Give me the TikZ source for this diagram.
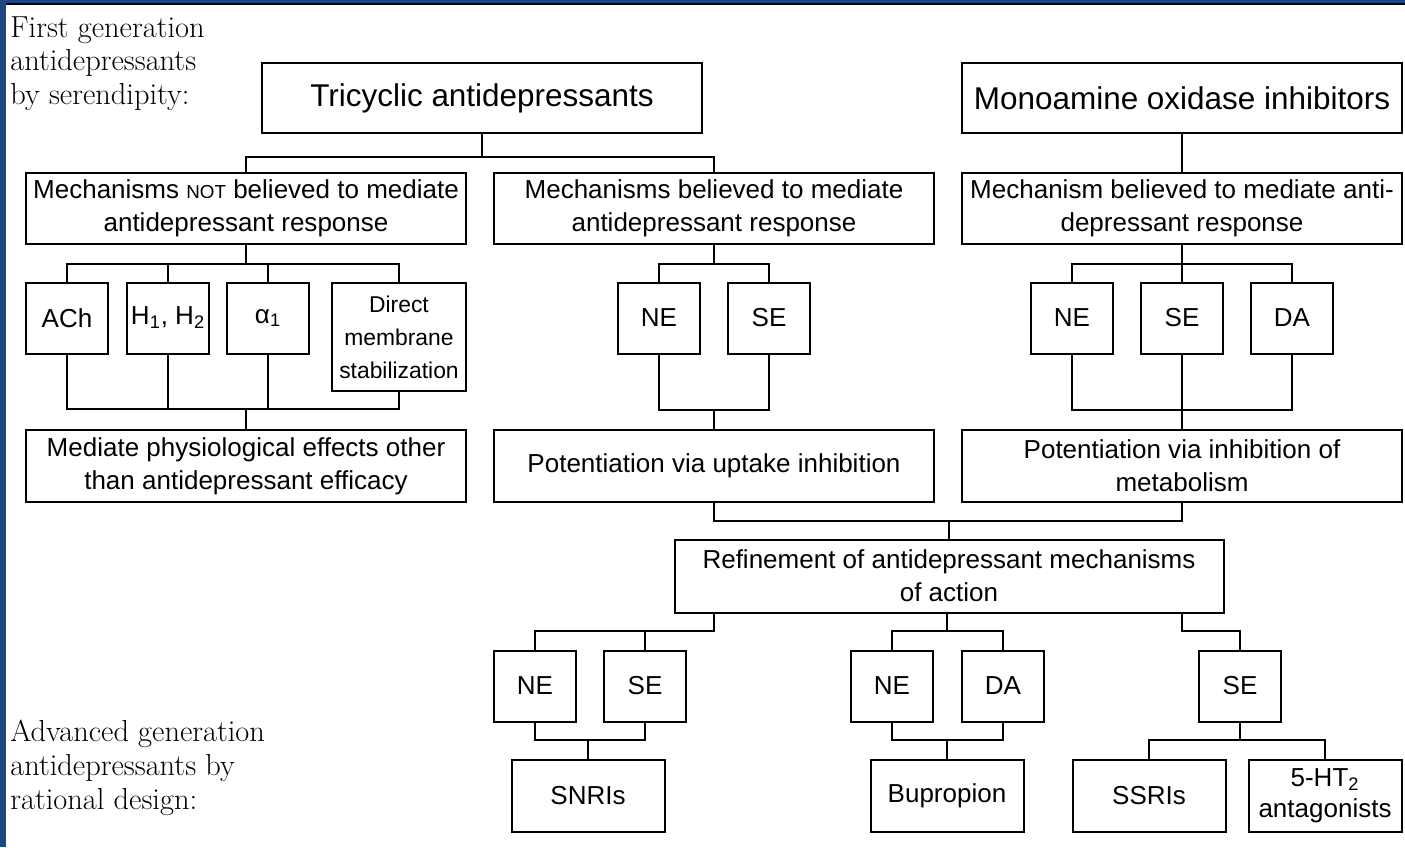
\documentclass[tikz,border=0pt]{standalone}
\usepackage{fontspec}
\newfontfamily\boxfont{Liberation Sans}
\definecolor{frameblue}{RGB}{29,72,126}
\tikzset{
  box/.style={draw, line width=0.4mm, inner sep=0pt, align=center,
    font=\boxfont\fontsize{14.8}{18.7}\selectfont},
  head/.style={box, minimum width=88mm, minimum height=14mm,
    font=\boxfont\fontsize{17.9}{21}\selectfont},
  wide/.style={box, minimum width=88mm, minimum height=14.2mm},
  cell/.style={box, minimum width=16.4mm, minimum height=14.2mm},
  drug/.style={box, minimum width=30.6mm, minimum height=14.4mm},
  wire/.style={line width=0.4mm},
  sidenote/.style={anchor=north west, inner sep=0pt, align=left,
    font=\fontsize{17.3}{19.3}\selectfont}
}

\begin{document}
\begin{tikzpicture}[x=0.2mm, y=-0.2mm]
  \useasboundingbox (0,0) rectangle (1405,847);
  % frame
  \fill[frameblue] (0,0) rectangle (6,847);
  \fill[frameblue] (0,0) rectangle (1405,3);
  \draw[line width=1.2pt] (6,4.2) -- (1405,4.2);

  % side notes
  \node[sidenote] (firstgen) at (10,16) {First generation\\antidepressants\\by serendipity:};
  \node[sidenote] (advgen) at (10,720) {Advanced generation\\antidepressants by\\rational design:};

  % first generation
  \node[head] (tca) at (482,98) {Tricyclic antidepressants};
  \node[head] (maoi) at (1182,98) {Monoamine oxidase inhibitors};

  \node[wide] (mnot) at (246,208) {Mechanisms {\fontsize{10.7}{12}\selectfont NOT} believed to mediate\\antidepressant response};
  \node[wide] (myes) at (714,208) {Mechanisms believed to mediate\\antidepressant response};
  \node[wide] (mmao) at (1182,208) {Mechanism believed to mediate anti-\\depressant response};

  \node[cell] (ach) at (67,318) {ACh};
  \node[cell] (hist) at (168,318) {H\textsubscript{1}, H\textsubscript{2}};
  \node[cell] (alpha) at (268,318) {α\textsubscript{1}};
  \node[box, minimum width=26.8mm, minimum height=21.6mm,
    font=\boxfont\fontsize{13}{18.7}\selectfont] (membr) at (399,337) {Direct\\membrane\\stabilization};
  \node[cell] (ne1) at (659,318) {NE};
  \node[cell] (se1) at (769,318) {SE};
  \node[cell] (ne2) at (1072,318) {NE};
  \node[cell] (se2) at (1182,318) {SE};
  \node[cell] (da2) at (1292,318) {DA};

  \node[box, minimum width=88mm, minimum height=14.4mm] (physio) at (246,466) {Mediate physiological effects other\\than antidepressant efficacy};
  \node[box, minimum width=88mm, minimum height=14.4mm] (uptake) at (714,466) {Potentiation via uptake inhibition};
  \node[box, minimum width=88mm, minimum height=14.4mm] (metab) at (1182,466) {Potentiation via inhibition of\\metabolism};

  % rational design
  \node[box, minimum width=109.8mm, minimum height=14.6mm] (refine) at (949,576) {Refinement of antidepressant mechanisms\\of action};
  \node[cell] (ne3) at (535,686) {NE};
  \node[cell] (se3) at (645,686) {SE};
  \node[cell] (ne4) at (892,686) {NE};
  \node[cell] (da4) at (1003,686) {DA};
  \node[cell] (se5) at (1240,686) {SE};
  \node[drug] (snri) at (588,796) {SNRIs};
  \node[drug] (bupr) at (947,796) {Bupropion};
  \node[drug] (ssri) at (1149,796) {SSRIs};
  \node[drug, font=\boxfont\fontsize{14.8}{17.5}\selectfont] (ht2) at (1325,796) {5-HT\textsubscript{2}\\antagonists};

  % tricyclic tree
  \coordinate (tcabus) at (482,157);
  \draw[wire] (tca.south) -- (tcabus);
  \draw[wire] (mnot.north) |- (tcabus) -| (myes.north);
  \coordinate (notbus) at (246,264);
  \draw[wire] (mnot.south) -- (notbus);
  \draw[wire] (ach.north) |- (notbus) -| (membr.north);
  \foreach \n in {hist,alpha} \draw[wire] (\n.north) -- (\n.north |- notbus);
  \coordinate (notjoin) at (246,409);
  \draw[wire] (ach.south) |- (notjoin) -| (membr.south);
  \foreach \n in {hist,alpha} \draw[wire] (\n.south) -- (\n.south |- notjoin);
  \draw[wire] (notjoin) -- (physio.north);
  \coordinate (yesbus) at (714,264);
  \draw[wire] (myes.south) -- (yesbus);
  \draw[wire] (ne1.north) |- (yesbus) -| (se1.north);
  \coordinate (yesjoin) at (714,410);
  \draw[wire] (ne1.south) |- (yesjoin) -| (se1.south);
  \draw[wire] (yesjoin) -- (uptake.north);

  % MAOI tree
  \draw[wire] (maoi.south) -- (mmao.north);
  \coordinate (maobus) at (1182,264);
  \draw[wire] (mmao.south) -- (maobus);
  \draw[wire] (ne2.north) |- (maobus) -| (da2.north);
  \draw[wire] (se2.north) -- (se2.north |- maobus);
  \coordinate (maojoin) at (1182,410);
  \draw[wire] (ne2.south) |- (maojoin) -| (da2.south);
  \draw[wire] (se2.south) -- (metab.north);

  % merge and refinement
  \coordinate (merge) at (949,521);
  \draw[wire] (uptake.south) |- (merge) -| (metab.south);
  \draw[wire] (merge) -- (refine.north);
  \coordinate (refl) at (714,631);
  \coordinate (refm) at (947,631);
  \coordinate (refr) at (1182,631);
  \draw[wire] (refl |- refine.south) -- (refl) -| (ne3.north);
  \draw[wire] (se3.north) -- (se3.north |- refl);
  \draw[wire] (refm |- refine.south) -- (refm);
  \draw[wire] (ne4.north) |- (refm) -| (da4.north);
  \draw[wire] (refr |- refine.south) -- (refr) -| (se5.north);

  \coordinate (snjoin) at (588,740);
  \draw[wire] (ne3.south) |- (snjoin) -| (se3.south);
  \draw[wire] (snjoin) -- (snri.north);
  \coordinate (bujoin) at (947,740);
  \draw[wire] (ne4.south) |- (bujoin) -| (da4.south);
  \draw[wire] (bujoin) -- (bupr.north);
  \coordinate (ssjoin) at (1240,740);
  \draw[wire] (se5.south) -- (ssjoin);
  \draw[wire] (ssri.north) |- (ssjoin) -| (ht2.north);
\end{tikzpicture}
\end{document}
